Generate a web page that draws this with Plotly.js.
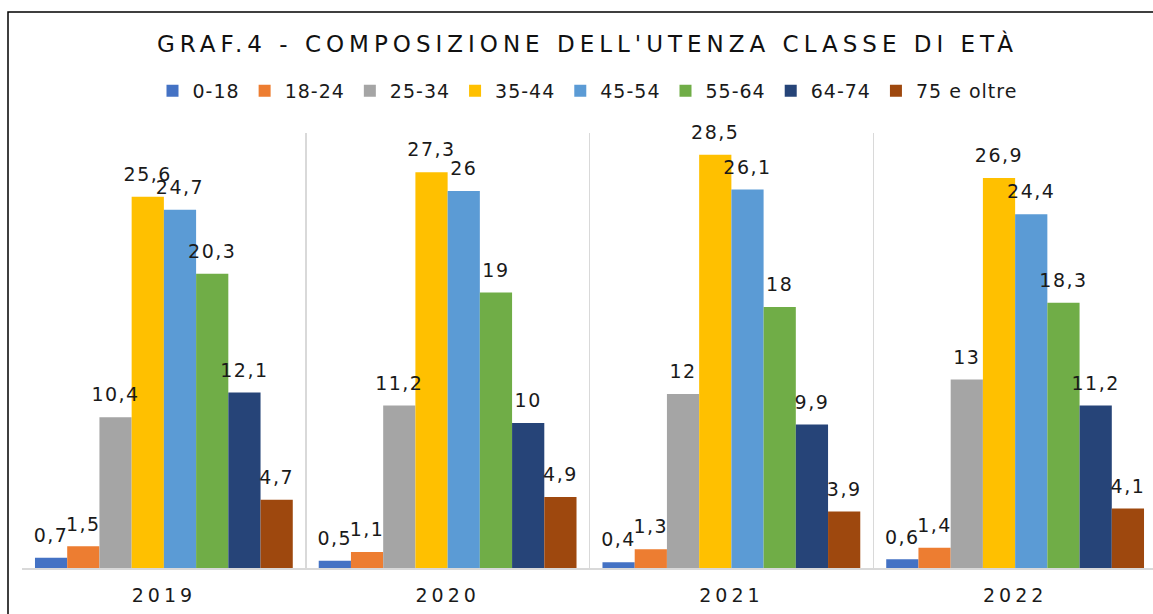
<!DOCTYPE html>
<html>
<head>
<meta charset="utf-8">
<script src="https://cdn.plot.ly/plotly-3.0.1.min.js"></script>
<style>
html, body { margin: 0; padding: 0; background: #ffffff; }
#chart { width: 1153px; height: 614px; }
.gtitle { letter-spacing: 5px; }
.xtick text { letter-spacing: 4px; }
.legendtext { letter-spacing: 1px; }
.textpoint text { letter-spacing: 1.5px; }
</style>
</head>
<body>
<div id="chart"></div>
<script>
// Categories (years)
const years = ["2019", "2020", "2021", "2022"];

// Series names (age classes)
const classes = ["0-18", "18-24", "25-34", "35-44", "45-54", "55-64", "64-74", "75 e oltre"];

// Values per class, one per year
const v0_18    = [0.7, 0.5, 0.4, 0.6];
const v18_24   = [1.5, 1.1, 1.3, 1.4];
const v25_34   = [10.4, 11.2, 12, 13];
const v35_44   = [25.6, 27.3, 28.5, 26.9];
const v45_54   = [24.7, 26, 26.1, 24.4];
const v55_64   = [20.3, 19, 18, 18.3];
const v64_74   = [12.1, 10, 9.9, 11.2];
const v75plus  = [4.7, 4.9, 3.9, 4.1];

const seriesValues = [v0_18, v18_24, v25_34, v35_44, v45_54, v55_64, v64_74, v75plus];
const colors = ["#4472C4", "#ED7D31", "#A5A5A5", "#FFC000", "#5B9BD5", "#70AD47", "#264478", "#9E480E"];

const fmt = v => String(v).replace(".", ",");

const FONT = "DejaVu Sans, Verdana, sans-serif";

const barTraces = classes.map((name, i) => ({
  type: "bar",
  name: name,
  x: years,
  y: seriesValues[i],
  offsetgroup: "g" + i,
  marker: { color: colors[i] },
  hoverinfo: "x+y+name"
}));

// Data labels: grouped scatter text aligned with each bar
const labelTraces = classes.map((name, i) => ({
  type: "scatter",
  mode: "markers+text",
  name: name + " etichette",
  x: years,
  y: seriesValues[i],
  offsetgroup: "g" + i,
  text: seriesValues[i].map(fmt),
  textposition: "top center",
  textfont: { family: FONT, size: 19, color: "#1a1a1a" },
  marker: { size: 16, color: "rgba(0,0,0,0)" },
  cliponaxis: false,
  showlegend: false,
  hoverinfo: "skip"
}));

const plotLeft = 22, plotRight = 1153, plotTop = 133, plotBottom = 568;
const plotW = plotRight - plotLeft, plotH = plotBottom - plotTop;

const layout = {
  width: 1153,
  height: 614,
  margin: { l: plotLeft, r: 1153 - plotRight, t: plotTop, b: 614 - plotBottom, pad: 0 },
  paper_bgcolor: "#ffffff",
  plot_bgcolor: "#ffffff",
  font: { family: FONT, color: "#1a1a1a" },
  title: {
    text: "GRAF.4 - COMPOSIZIONE DELL'UTENZA CLASSE DI ETÀ",
    font: { family: FONT, size: 23, color: "#111111" },
    x: 0.5, xref: "paper", xanchor: "center",
    y: 1 - 44 / 614, yref: "container", yanchor: "middle"
  },
  barmode: "group",
  scattermode: "group",
  bargap: 0.0915,
  bargroupgap: 0,
  scattergap: 0.0915,
  showlegend: true,
  legend: {
    orientation: "h",
    x: 0.5, xanchor: "center",
    y: (plotBottom - 91) / plotH, yanchor: "middle",
    font: { family: FONT, size: 19, color: "#1a1a1a" },
    traceorder: "normal",
    itemwidth: 30,
    bgcolor: "rgba(0,0,0,0)"
  },
  xaxis: {
    type: "category",
    range: [-0.5, -0.5 + plotW / 283.75],
    tickson: "boundaries",
    ticks: "",
    ticklabelstandoff: 10,
    showgrid: true,
    gridcolor: "#d9d9d9",
    gridwidth: 1.5,
    showline: true,
    linecolor: "#d9d9d9",
    linewidth: 1.5,
    tickfont: { family: FONT, size: 19, color: "#1a1a1a" },
    fixedrange: true
  },
  yaxis: {
    range: [0, 30],
    visible: false,
    showgrid: false,
    zeroline: false,
    fixedrange: true
  },
  shapes: [
    {
      type: "rect",
      xref: "paper", yref: "paper",
      x0: (8 - plotLeft) / plotW, x1: 1.2,
      y0: -0.3, y1: (plotBottom - 12) / plotH,
      line: { color: "#000000", width: 1.5 },
      fillcolor: "rgba(0,0,0,0)",
      layer: "below"
    }
  ]
};

Plotly.newPlot("chart", barTraces.concat(labelTraces), layout, { displayModeBar: false, staticPlot: true });
</script>
</body>
</html>
